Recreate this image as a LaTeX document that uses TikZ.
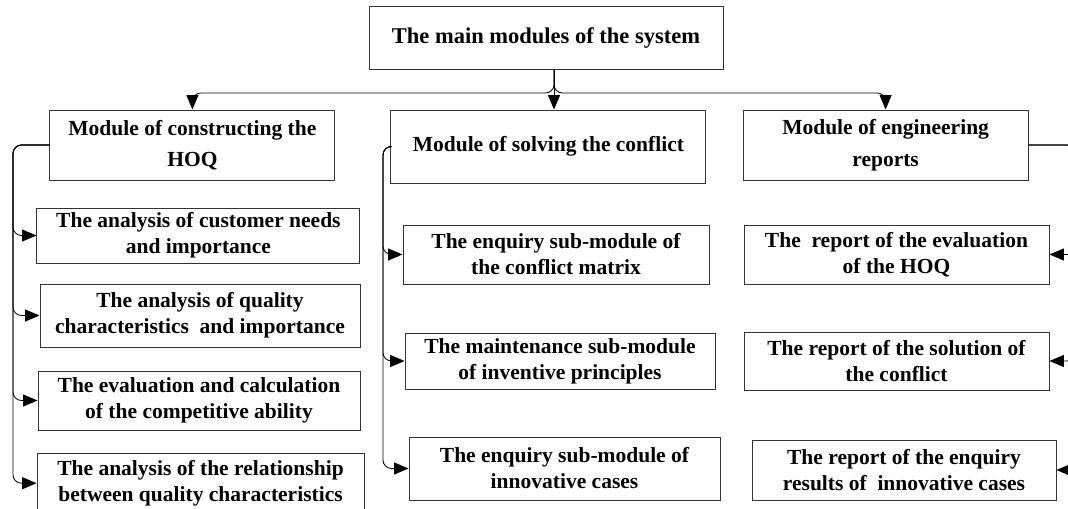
\documentclass[tikz,border=0pt]{standalone}
\usepackage{fontspec}
\setmainfont{Liberation Serif}
\usetikzlibrary{arrows.meta}

\begin{document}
\begin{tikzpicture}[
    box/.style={draw=black!80,line width=0.7pt,align=center,inner sep=2pt,font=\fontsize{15.3}{18.5}\selectfont\bfseries},
    link/.style={line width=0.6pt,rounded corners=6pt,-{Triangle[length=0.36cm,width=0.3cm]}}]
        \useasboundingbox (0,0) rectangle (26.7,12.7);
        \node[box,minimum width=8.85cm,minimum height=1.575cm,font=\fontsize{16}{19}\selectfont\bfseries] (main) at (13.65,11.76) {The main modules of the system};
        \node[box,minimum width=7.125cm,minimum height=1.75cm,font=\fontsize{15.3}{22.5}\selectfont\bfseries] (hoq) at (4.81,9.075) {Module of constructing the\\HOQ};
        \node[box,minimum width=7.875cm,minimum height=1.825cm] (conf) at (13.71,9.0375) {Module of solving the conflict};
        \node[box,minimum width=7.125cm,minimum height=1.75cm,font=\fontsize{15.3}{22.5}\selectfont\bfseries] (rep) at (22.14,9.075) {Module of engineering\\reports};
        % sub-modules of the HOQ
        \node[box,minimum width=8.075cm,minimum height=1.375cm] (h1) at (4.96,6.8125) {The analysis of customer needs\\and importance};
        \node[box,minimum width=8cm,minimum height=1.575cm] (h2) at (5,4.8125) {The analysis of quality\\characteristics~ and importance};
        \node[box,minimum width=8.05cm,minimum height=1.475cm] (h3) at (4.975,2.6875) {The evaluation and calculation\\of the competitive ability};
        \node[box,minimum width=8.175cm,minimum height=1.5cm] (h4) at (5.0125,0.62) {The analysis of the relationship\\between quality characteristics};
        % sub-modules of the conflict
        \node[box,minimum width=7.65cm,minimum height=1.475cm] (c1) at (13.9,6.3375) {The enquiry sub-module of\\the conflict matrix};
        \node[box,minimum width=7.75cm,minimum height=1.4cm] (c2) at (14,3.675) {The maintenance sub-module\\of inventive principles};
        \node[box,minimum width=7.775cm,minimum height=1.575cm] (c3) at (14.1125,0.9875) {The enquiry sub-module of\\innovative cases};
        % reports
        \node[box,minimum width=7.625cm,minimum height=1.475cm] (r1) at (22.4125,6.3375) {The~ report of the evaluation\\of the HOQ};
        \node[box,minimum width=7.625cm,minimum height=1.45cm] (r2) at (22.4125,3.675) {The report of the solution of\\the conflict};
        \node[box,minimum width=7.6cm,minimum height=1.5cm] (r3) at (22.6,0.95) {The report of the enquiry\\results of~ innovative cases};
        \coordinate (split) at (13.85,10.375);
        \coordinate (hbus) at (0.325,0);
        \coordinate (cbus) at (9.575,0);
        \coordinate (rbus) at (26.875,0);
        \draw[link] (main.south -| split) -- (split) -| (hoq.north);
        \draw[link] (main.south -| split) -- (split) -| (rep.north);
        \draw[link] (main.south -| split) -- (split |- conf.north);
        \foreach \n in {h1,h2,h3,h4} \draw[link] (hoq.west) -| (hbus |- \n.west) -- (\n.west);
        \foreach \n in {c1,c2,c3} \draw[link] (conf.west) -| (cbus |- \n.west) -- (\n.west);
        \foreach \n in {r1,r2,r3} \draw[link] (rep.east) -| (rbus |- \n.east) -- (\n.east);
      \end{tikzpicture}
\end{document}
